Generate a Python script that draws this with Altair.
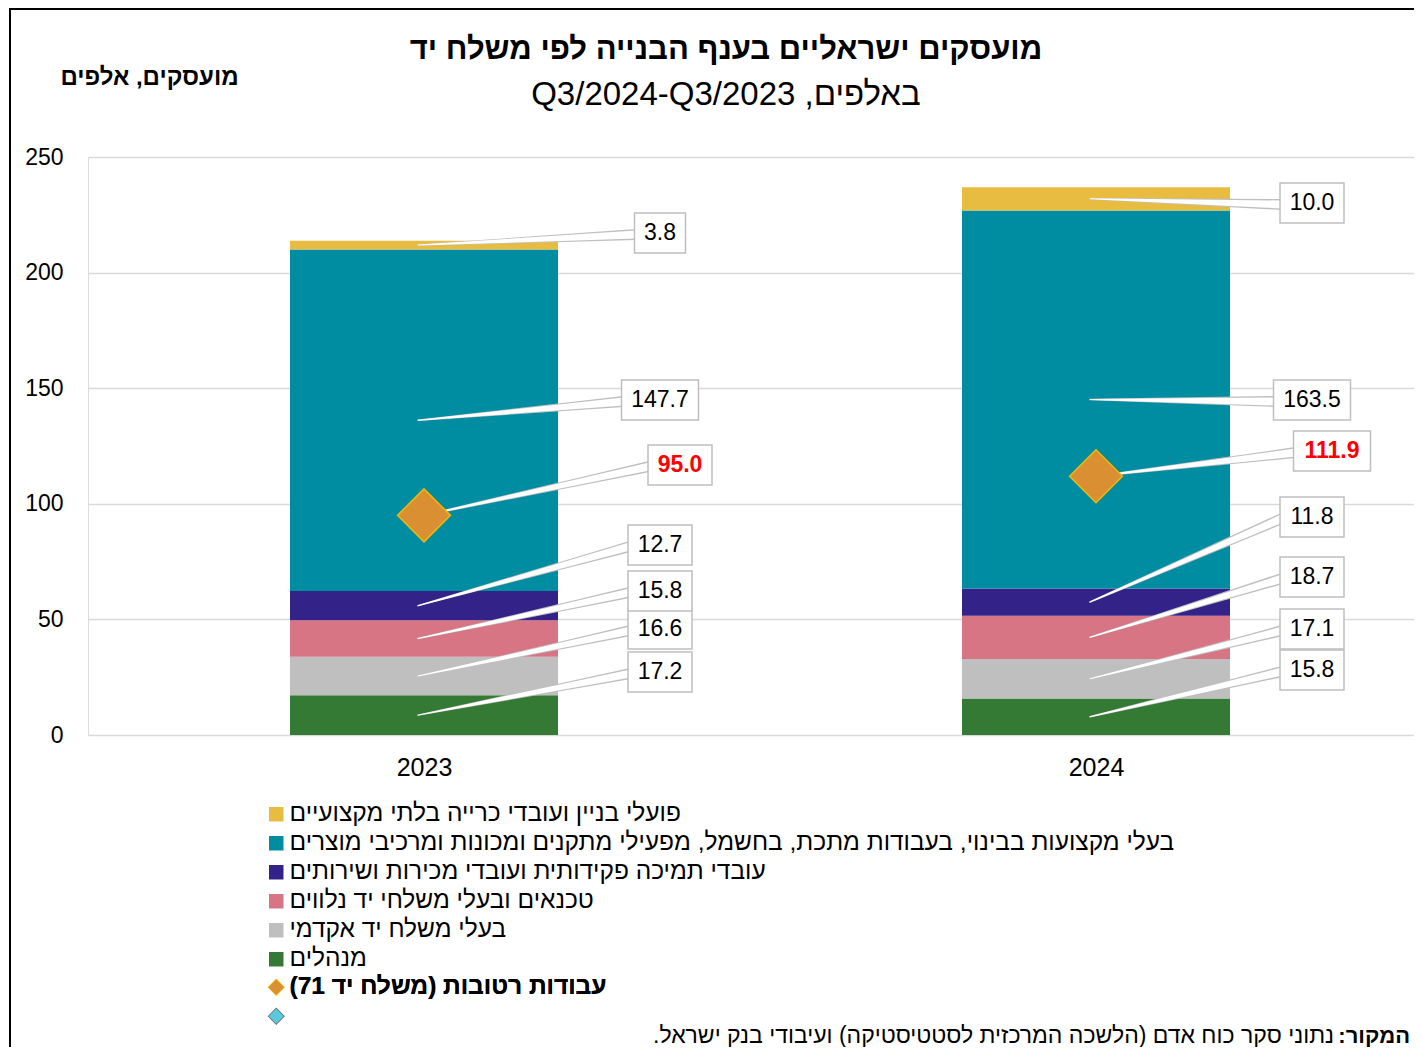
import altair as alt
import pandas as pd

RLE, PDF = "\u202B", "\u202C"


def rtl(s):
    return RLE + s + PDF


# ---------------- data ----------------
years = [2023, 2024]
categories = [  # bottom -> top of the stack
    "מנהלים",
    "בעלי משלח יד אקדמי",
    "טכנאים ובעלי משלחי יד נלווים",
    "עובדי תמיכה פקידותית ועובדי מכירות ושירותים",
    "בעלי מקצועות בבינוי, בעבודות מתכת, בחשמל, מפעילי מתקנים ומכונות ומרכיבי מוצרים",
    "פועלי בניין ועובדי כרייה בלתי מקצועיים",
]
cat_colors = ["#357A34", "#BFBFBF", "#D87584", "#332288", "#018DA1", "#E8BC41"]
values_2023 = [17.2, 16.6, 15.8, 12.7, 147.7, 3.8]
values_2024 = [15.8, 17.1, 18.7, 11.8, 163.5, 10.0]
wet_name = "עבודות רטובות (משלח יד 71)"
wet_values = [95.0, 111.9]
y_ticks = [0, 50, 100, 150, 200, 250]

# callout box placement (value-axis units)
callout_y_2023 = [27.2, 45.8, 62.3, 82.2, 144.9, 217.1]
callout_y_2024 = [28.1, 45.8, 68.3, 94.3, 144.9, 230.1]
wet_callout_y = [116.8, 122.8]

title_text = "מועסקים ישראליים בענף הבנייה לפי משלח יד"
subtitle_text = "באלפים, Q3/2024-Q3/2023"
y_title = "מועסקים, אלפים"
source_bold = "המקור:"
source_rest = "נתוני סקר כוח אדם (הלשכה המרכזית לסטטיסטיקה) ועיבודי בנק ישראל."

# ---------------- layout constants ----------------
W, H = 1326, 578
PX_PER_YEAR = 672.0
X0 = 2022.5
X1 = X0 + W / PX_PER_YEAR
PX_PER_UNIT = H / 250.0
FONT = "Liberation Sans"
box_center_dx = {2023: 236, 2024: 216}
wet_extra_dx = 20
BOX_H = 40

# ---------------- tables ----------------
rows = []
for yr, vals in zip(years, [values_2023, values_2024]):
    base = 0.0
    for i, (c, v) in enumerate(zip(categories, vals)):
        rows.append({"year": yr, "cat": rtl(c), "y0": base, "y1": base + v,
                     "mid": base + v / 2, "val": v, "idx": i})
        base += v
bars = pd.DataFrame(rows)

wet = pd.DataFrame({"year": years, "value": wet_values, "series": [rtl(wet_name)] * 2})

box_rows, lead_rows = [], []
cid = 0


def add_callout(yr, txt, kind, cx_px, cy, sx, sy):
    global cid
    bw = 13 * len(txt) + 12
    cx = yr + cx_px / PX_PER_YEAR
    box_rows.append({"id": cid, "txt": txt, "kind": kind,
                     "bx0": cx - bw / 2 / PX_PER_YEAR, "bx1": cx + bw / 2 / PX_PER_YEAR,
                     "by0": cy - BOX_H / 2 / PX_PER_UNIT, "by1": cy + BOX_H / 2 / PX_PER_UNIT,
                     "cx": cx, "cy": cy})
    ex = cx - bw / 2 / PX_PER_YEAR + 2 / PX_PER_YEAR
    lead_rows.append({"id": cid, "step": 0, "x": sx, "y": sy, "wo": 1.5, "wi": 0})
    lead_rows.append({"id": cid, "step": 1, "x": ex, "y": cy - 1.5 / PX_PER_UNIT, "wo": 11, "wi": 8})
    cid += 1


for yr, vals, cys in zip(years, [values_2023, values_2024], [callout_y_2023, callout_y_2024]):
    sub = bars[bars.year == yr]
    for (_, r), cy in zip(sub.iterrows(), cys):
        add_callout(yr, f"{r['val']:.1f}", "cat", box_center_dx[yr], cy,
                    yr - 6 / PX_PER_YEAR, r["mid"])
for yr, v, cy in zip(years, wet_values, wet_callout_y):
    add_callout(yr, f"{v:.1f}", "wet", box_center_dx[yr] + wet_extra_dx, cy, float(yr), v)

boxes = pd.DataFrame(box_rows)
leads = pd.DataFrame(lead_rows)

# ---------------- scales ----------------
xscale = alt.Scale(domain=[X0, X1], nice=False, zero=False, padding=0)
yscale = alt.Scale(domain=[0, 250], nice=False, padding=0)

legend_domain = [rtl(c) for c in categories[::-1]]
legend_range = cat_colors[::-1]

x_axis = alt.Axis(values=years, format="d", title=None, grid=False, ticks=False, domain=False,
                  labelFontSize=25, labelFont=FONT, labelColor="#000000", labelPadding=20)
y_axis = alt.Axis(values=y_ticks, title=rtl(y_title), titleAngle=0, titleX=61, titleY=-80,
                  titleAlign="center", titleBaseline="middle", titleFontSize=24,
                  titleFont=FONT, titleFontWeight="bold", titleColor="#000000",
                  grid=True, gridColor="#D9D9D9", gridWidth=1.5, ticks=False, domain=False,
                  labelFontSize=23, labelFont=FONT, labelColor="#000000", labelPadding=25)

bar_layer = alt.Chart(bars).mark_bar(width=268).encode(
    x=alt.X("year:Q", scale=xscale, axis=x_axis),
    y=alt.Y("y0:Q", scale=yscale, axis=y_axis),
    y2="y1:Q",
    color=alt.Color("cat:N", scale=alt.Scale(domain=legend_domain, range=legend_range),
                    legend=alt.Legend(title=None, orient="none", legendX=176, legendY=645,
                                      direction="vertical", symbolType="square", symbolSize=210,
                                      symbolStrokeWidth=0, labelFontSize=24.5, labelFont=FONT,
                                      labelColor="#000000", labelOffset=1, rowPadding=4,
                                      padding=0, labelLimit=1300)),
    order=alt.Order("idx:Q"),
)

lead_outer = alt.Chart(leads).mark_trail(color="#BFBFBF").encode(
    x=alt.X("x:Q", scale=xscale), y=alt.Y("y:Q", scale=yscale),
    size=alt.Size("wo:Q", scale=None, legend=None),
    detail="id:N", order="step:Q")
lead_inner = alt.Chart(leads).mark_trail(color="#FFFFFF").encode(
    x=alt.X("x:Q", scale=xscale), y=alt.Y("y:Q", scale=yscale),
    size=alt.Size("wi:Q", scale=None, legend=None),
    detail="id:N", order="step:Q")

wet_domain = [rtl(wet_name), "\u200B"]


def wet_legend():
    return alt.Legend(
        title=None, orient="none", legendX=176, legendY=818, direction="vertical",
        symbolType="diamond", symbolSize=230, symbolStrokeWidth=1.5,
        labelFontSize=24.5, labelFont=FONT, labelFontWeight="bold",
        labelColor="#000000", labelOffset=1, rowPadding=4, padding=0, labelLimit=1300)


wet_layer = alt.Chart(wet).mark_point(shape="diamond", filled=True, size=2800,
                                      strokeWidth=1.5, opacity=1).encode(
    x=alt.X("year:Q", scale=xscale), y=alt.Y("value:Q", scale=yscale),
    fill=alt.Fill("series:N", scale=alt.Scale(domain=wet_domain, range=["#DB8F33", "#5BC9DD"]),
                  legend=wet_legend()),
    stroke=alt.Stroke("series:N", scale=alt.Scale(domain=wet_domain, range=["#F2B705", "#6E6E6E"]),
                      legend=wet_legend()),
)

box_layer = alt.Chart(boxes).mark_rect(fill="#FFFFFF", stroke="#BFBFBF", strokeWidth=1.5).encode(
    x=alt.X("bx0:Q", scale=xscale), x2="bx1:Q",
    y=alt.Y("by0:Q", scale=yscale), y2="by1:Q")
txt_cat = alt.Chart(boxes[boxes.kind == "cat"]).mark_text(
    fontSize=23, font=FONT, color="#000000", align="center", baseline="middle").encode(
    x=alt.X("cx:Q", scale=xscale), y=alt.Y("cy:Q", scale=yscale), text="txt:N")
txt_wet = alt.Chart(boxes[boxes.kind == "wet"]).mark_text(
    fontSize=23, font=FONT, fontWeight="bold", color="#FF0000", align="center",
    baseline="middle").encode(
    x=alt.X("cx:Q", scale=xscale), y=alt.Y("cy:Q", scale=yscale), text="txt:N")

notes = pd.DataFrame({"bold": [rtl(source_bold)], "rest": [rtl(source_rest)],
                      "title": [rtl(title_text)], "subtitle": [rtl(subtitle_text)]})
title_mark = alt.Chart(notes).mark_text(fontSize=31, font=FONT, fontWeight="bold", color="#000000",
                                        align="center", baseline="middle").encode(
    x=alt.value(638), y=alt.value(-107), text="title:N")
subtitle_mark = alt.Chart(notes).mark_text(fontSize=33, font=FONT, color="#000000",
                                           align="center", baseline="middle").encode(
    x=alt.value(638), y=alt.value(-62), text="subtitle:N")
src_bold = alt.Chart(notes).mark_text(fontSize=22, font=FONT, fontWeight="bold", color="#000000",
                                      align="right", baseline="middle").encode(
    x=alt.value(W - 4), y=alt.value(879), text="bold:N")
src_rest = alt.Chart(notes).mark_text(fontSize=23, font=FONT, color="#000000",
                                      align="right", baseline="middle").encode(
    x=alt.value(W - 80), y=alt.value(879), text="rest:N")

frame = alt.Chart(notes).mark_rect(fill=None, stroke="#000000", strokeWidth=2).encode(
    x=alt.value(-78), x2=alt.value(W + 40), y=alt.value(-148), y2=alt.value(H + 400))

chart = alt.layer(
    bar_layer, lead_outer, lead_inner, wet_layer, box_layer, txt_cat, txt_wet,
    title_mark, subtitle_mark, src_bold, src_rest, frame
).resolve_legend(fill="independent", color="independent").properties(
    width=W, height=H,
    autosize=alt.AutoSizeParams(type="none"),
    padding={"left": 80, "top": 149, "right": 0, "bottom": 312},
).configure_view(stroke=None).configure(background="#FFFFFF")

chart.save("out.html", embed_options={"renderer": "svg", "actions": False})
